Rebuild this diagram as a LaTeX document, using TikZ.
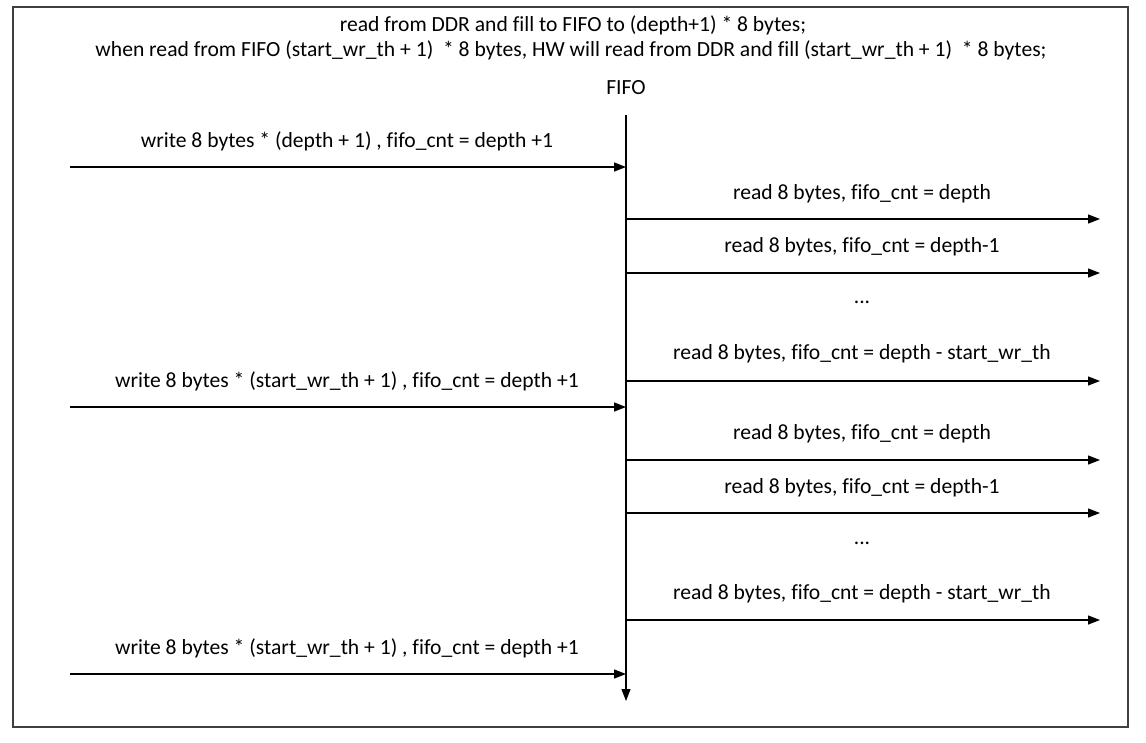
\documentclass[tikz,border=0pt]{standalone}
\usepackage{fontspec}
\setmainfont{Carlito}[Ligatures=NoCommon]
\usetikzlibrary{arrows.meta}
\begin{document}
\begin{tikzpicture}[x=1pt,y=-1pt,
  lbl/.style={inner sep=0pt,font=\fontsize{21.6}{26}\selectfont},
  msg/.style={line width=1.3pt,-{Triangle[length=12pt,width=9pt]}},
  frame/.style={line width=1.3pt,draw=black!75}]
\useasboundingbox (0,0) rectangle (1146,742);
\fill[white] (0,0) rectangle (1146,742);
\draw[frame] (13,7) rectangle (1128,727);
% titles
\node[lbl] (t1) at (573,25) {read from DDR and fill to FIFO to (depth+1) * 8 bytes;};
\node[lbl] (t2) at (571,50) {when read from FIFO (start\_wr\_th + 1)\ \ * 8 bytes, HW will read from DDR and fill (start\_wr\_th + 1)\ \ * 8 bytes;};
\node[lbl] (fifo) at (626,88) {FIFO};
% lifeline
\coordinate (ltop) at (626,115);
\coordinate (lbot) at (626,701);
\draw[msg] (ltop) -- (lbot);
% write arrows
\coordinate (w1s) at (70,167); \coordinate (w1e) at (626,167);
\coordinate (w2s) at (70,407); \coordinate (w2e) at (626,407);
\coordinate (w3s) at (70,674); \coordinate (w3e) at (626,674);
\draw[msg] (w1s) -- (w1e);
\draw[msg] (w2s) -- (w2e);
\draw[msg] (w3s) -- (w3e);
\node[lbl] (w1l) at (347,141) {write 8 bytes * (depth + 1) , fifo\_cnt = depth +1};
\node[lbl] (w2l) at (347,381) {write 8 bytes * (start\_wr\_th + 1) , fifo\_cnt = depth +1};
\node[lbl] (w3l) at (347,648) {write 8 bytes * (start\_wr\_th + 1) , fifo\_cnt = depth +1};
% read arrows
\foreach \n/\y in {1/219,2/273,3/381,4/460,5/513,6/620}{
  \coordinate (r\n s) at (626,\y);
  \coordinate (r\n e) at (1100,\y);
  \draw[msg] (r\n s) -- (r\n e);
}
\node[lbl] (r1l) at (862,194) {read 8 bytes, fifo\_cnt = depth};
\node[lbl] (r2l) at (862,247) {read 8 bytes, fifo\_cnt = depth-1};
\node[lbl] (d1) at (862,302) {...};
\node[lbl] (r3l) at (862,354) {read 8 bytes, fifo\_cnt = depth - start\_wr\_th};
\node[lbl] (r4l) at (862,434) {read 8 bytes, fifo\_cnt = depth};
\node[lbl] (r5l) at (862,488) {read 8 bytes, fifo\_cnt = depth-1};
\node[lbl] (d2) at (862,543) {...};
\node[lbl] (r6l) at (862,594) {read 8 bytes, fifo\_cnt = depth - start\_wr\_th};
\end{tikzpicture}
\end{document}
